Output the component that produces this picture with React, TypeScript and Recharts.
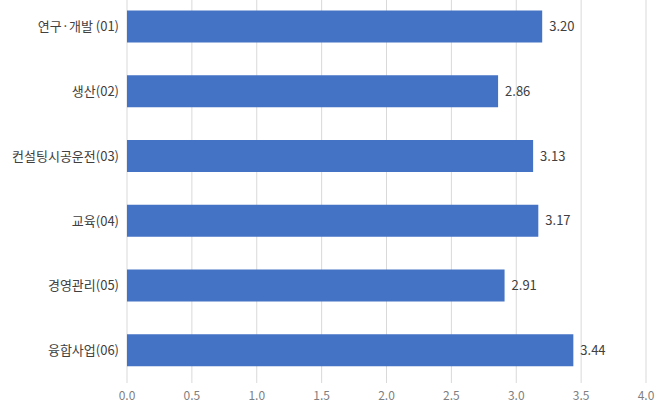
import { BarChart, Bar, XAxis, YAxis, CartesianGrid, LabelList } from 'recharts';

// ─── Data ─────────────────────────────────────────────────────────────────────

const categories = [
  '연구·개발 (01)',
  '생산(02)',
  '컨설팅시공운전(03)',
  '교육(04)',
  '경영관리(05)',
  '융합사업(06)',
];
const scores = [3.2, 2.86, 3.13, 3.17, 2.91, 3.44];
const xTicks = [0, 0.5, 1, 1.5, 2, 2.5, 3, 3.5, 4];

const data = categories.map((name, i) => ({ name, value: scores[i] }));

const FONT = '"Noto Sans CJK KR", "Noto Sans", sans-serif';

// ─── Component ────────────────────────────────────────────────────────────────

export default function App() {
  return (
    <div style={{ position: 'absolute', left: 0, top: -6, fontFamily: FONT }}>
      <BarChart
        width={666}
        height={415}
        data={data}
        layout="vertical"
        margin={{ top: 0.5, right: 20, bottom: 0, left: 0 }}
      >
        <CartesianGrid horizontal={false} stroke="#d9d9d9" />
        <XAxis
          type="number"
          domain={[0, 4]}
          ticks={xTicks}
          tickFormatter={(v: number) => v.toFixed(1)}
          axisLine={false}
          tickLine={false}
          height={26}
          tick={{ fill: '#7f7f7f', fontSize: 12, fontFamily: FONT }}
        />
        <YAxis
          type="category"
          dataKey="name"
          width={127}
          axisLine={false}
          tickLine={false}
          tick={{ fill: '#404040', fontSize: 13, fontFamily: FONT }}
        />
        <Bar dataKey="value" fill="#4472C4" barSize={32} isAnimationActive={false}>
          <LabelList
            dataKey="value"
            position="right"
            offset={7}
            formatter={(v: number) => v.toFixed(2)}
            style={{ fill: '#404040', fontSize: 13, fontFamily: FONT }}
          />
        </Bar>
      </BarChart>
    </div>
  );
}
